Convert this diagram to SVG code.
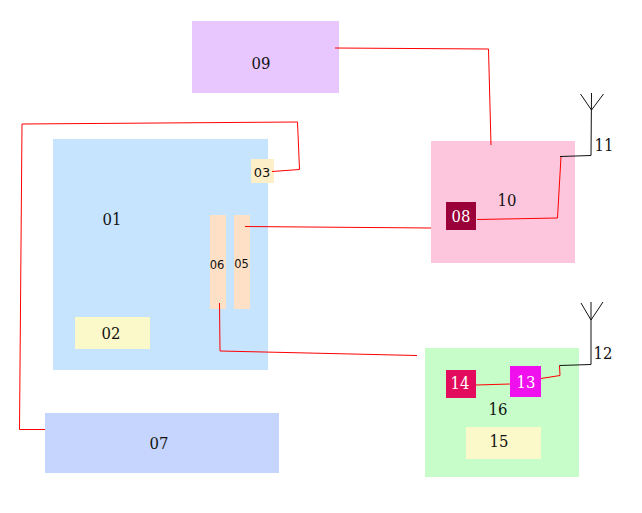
<svg xmlns="http://www.w3.org/2000/svg" width="642" height="513" viewBox="0 0 642 513">
  <style>
    text { font-family: "DejaVu Serif Condensed", "DejaVu Serif", "Liberation Serif", serif; font-size: 16.5px; text-anchor: middle; fill: #111; }
    text.light { fill: #fff; }
    text.small { font-family: "DejaVu Sans", "Liberation Sans", sans-serif; font-size: 11.5px; }
    .red { fill: none; stroke: #ff0000; stroke-width: 1; }
    .black { fill: none; stroke: #111; stroke-width: 1; }
  </style>
  <rect width="642" height="513" fill="#fff"/>
  <g id="n09"><rect x="192" y="21" width="147" height="72" fill="#e8c6fe"/><text x="261" y="69">09</text></g>
  <g id="n01"><rect x="53" y="139" width="215" height="231" fill="#c6e4fd"/><text x="112" y="225">01</text></g>
  <g id="n02"><rect x="75" y="317" width="75" height="32" fill="#fbf8c9"/><text x="111" y="339">02</text></g>
  <g id="n03"><rect x="251" y="159" width="23" height="24" fill="#fdf0c8"/><text class="small" x="262" y="177" style="font-size:13px">03</text></g>
  <g id="n05"><rect x="234" y="215" width="16" height="94" fill="#fde0c5"/><text class="small" x="241.500" y="268">05</text></g>
  <g id="n06"><rect x="210" y="215" width="16" height="94" fill="#fde0c5"/><text class="small" x="217" y="269">06</text></g>
  <g id="n07"><rect x="45" y="413" width="234" height="60" fill="#c6d5fd"/><text x="159" y="449">07</text></g>
  <g id="n10"><rect x="431" y="141" width="144" height="122" fill="#fdc6dc"/><text x="507" y="206">10</text></g>
  <g id="n08"><rect x="446" y="202" width="30" height="28" fill="#9a0039"/><text class="light" x="461" y="222">08</text></g>
  <g id="n16"><rect x="425" y="348" width="154" height="129" fill="#c6fdc9"/><text x="498" y="415">16</text></g>
  <g id="n14"><rect x="446" y="370" width="30" height="28" fill="#e30b5c"/><text class="light" x="460" y="389">14</text></g>
  <g id="n13"><rect x="510" y="366" width="31" height="31" fill="#f010ee"/><text class="light" x="526" y="388">13</text></g>
  <g id="n15"><rect x="466" y="427" width="75" height="32" fill="#fbf8c9"/><text x="499" y="447">15</text></g>
  <g id="n11"><text x="604" y="151">11</text></g>
  <g id="n12"><text x="603" y="359">12</text></g>
  <g id="connectors">
    <polyline class="red" points="335,48 488.500,49 491,145"/>
    <polyline class="red" points="477,219.500 557.500,218 561,156.500"/>
    <polyline class="black" points="560,156.500 591,155.500 591.500,93"/>
    <path class="black" d="M580.500,94 L591.500,110 L603.500,94"/>
    <polyline class="red" points="272,171.500 299.500,169.500 297.500,122 22,124 19.500,429.500 45,429.500"/>
    <polyline class="red" points="245,226.500 431,228"/>
    <polyline class="red" points="219.500,303 220,351 417,355.500"/>
    <polyline class="red" points="476,385 510,384"/>
    <polyline class="red" points="541,378.500 560,375.500 559.500,365.500"/>
    <polyline class="black" points="559.500,365.500 591,364.500 591,302"/>
    <path class="black" d="M581,303 L591,320 L603,302"/>
  </g>
</svg>
